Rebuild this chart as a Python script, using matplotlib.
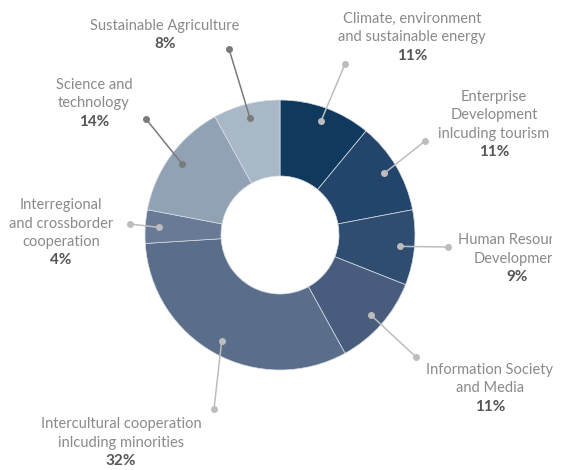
#Donut chart of funding share by priority area, recreated from a reference picture.
import numpy as np
import matplotlib.pyplot as plt
from matplotlib.patches import Rectangle

names = ['Climate, environment\nand sustainable energy',
         'Enterprise\nDevelopment\ninlcuding tourism',
         'Human Resources\nDevelopment',
         'Information Society\nand Media',
         'Intercultural cooperation\ninlcuding minorities',
         'Interregional\nand crossborder\ncooperation',
         'Science and\ntechnology',
         'Sustainable Agriculture']
shares = [11, 11, 9, 11, 32, 4, 14, 8]

colors = ['#0f3a5e', '#23456b', '#2f4d71', '#485d7d',
          '#5a6d8a', '#687a96', '#91a2b5', '#a8b8c6']
# label layout in pixels (x centre, y of first line, from top) and outer leader dot
label_xy = [(412, 19), (494, 97), (517, 240), (490, 370),
            (121, 424), (61, 205), (94, 85), (165, 26)]
dot_xy = [(345, 64), (425, 141), (448, 247), (416, 357),
          (214, 409), (130, 224), (146, 119), (229, 49)]
line_col = ['#bdbdbd'] * 6 + ['#7a7a7a', '#7a7a7a']
clipped = [False, False, True, False, False, False, False, False]

W, H = 565, 470
cx, cy = 280, 235
r_out, r_in = 135, 59

plt.rcParams['font.family'] = ['Lato', 'DejaVu Sans']
fig = plt.figure(figsize=(W/100, H/100), dpi=100)
ax = fig.add_axes([0, 0, 1, 1])
ax.set_xlim(0, W)
ax.set_ylim(0, H)
ax.set_aspect('equal')
ax.axis('off')

wedges, _ = ax.pie(shares, colors=colors, startangle=90, counterclock=False,
                   radius=r_out, center=(cx, H - cy),
                   wedgeprops=dict(width=r_out - r_in, edgecolor='#d8dee6', linewidth=0.5))
ax.set_xlim(0, W)
ax.set_ylim(0, H)

# the original chart area stops a little short of the right edge
clip = Rectangle((0, 0), 552, H, transform=ax.transData, visible=False)
ax.add_patch(clip)

for w, name, pct, (lx, ly), (dx, dy), lc, cl in zip(wedges, names, shares, label_xy,
                                                     dot_xy, line_col, clipped):
  ang = np.deg2rad((w.theta1 + w.theta2) / 2)
  ix = cx + 121 * np.cos(ang)
  iy = H - cy + 121 * np.sin(ang)
  ax.plot([ix, dx], [iy, H - dy], c=lc, lw=1.1)
  ax.plot([ix, dx], [iy, H - dy], 'o', c=lc, ms=4)
  lines = name.split('\n')
  for k, t in enumerate(lines):
    tx = ax.text(lx, H - ly - 18.5 * k, t, ha='center', va='center',
                 fontsize=10.5, color='#8a8a8a', clip_on=cl)
    if cl: tx.set_clip_path(clip)
  ax.text(lx, H - ly - 18.5 * len(lines), f'{pct}%', ha='center', va='center',
          fontsize=11, fontweight='bold', color='#555555')

fig.savefig('out.png', dpi=100)
